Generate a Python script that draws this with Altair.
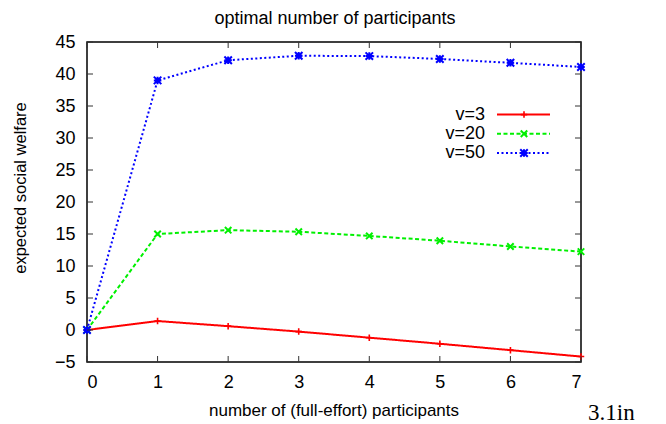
import altair as alt
import pandas as pd

# ---- data ----
participants = [0, 1, 2, 3, 4, 5, 6, 7]
v3 = [0, 1.4, 0.6, -0.25, -1.2, -2.15, -3.15, -4.15]
v20 = [0, 15.0, 15.6, 15.35, 14.7, 13.95, 13.05, 12.25]
v50 = [0, 39.0, 42.15, 42.85, 42.8, 42.35, 41.75, 41.1]
series_names = ["v=3", "v=20", "v=50"]
x_ticks = [0, 1, 2, 3, 4, 5, 6, 7]
y_ticks = [-5, 0, 5, 10, 15, 20, 25, 30, 35, 40, 45]
title_text = "optimal number of participants"
x_title = "number of (full-effort) participants"
y_title = "expected social welfare"
note_text = "3.1in"

W, H = 494, 320
FONT = "Liberation Sans"

PLUS = "M-1,0L1,0M0,-1L0,1"
CROSS = "M-1,-1L1,1M-1,1L1,-1"
STAR = "M-1,0L1,0M0,-1L0,1M-1,-1L1,1M-1,1L1,-1"

styles = {
    "v=3": dict(color="#ff0000", dash=[1, 0], shape=PLUS, size=42, sw=1.6),
    "v=20": dict(color="#00f000", dash=[4, 2.5], shape=CROSS, size=42, sw=2),
    "v=50": dict(color="#0000ff", dash=[2, 2.5], shape=STAR, size=56, sw=2),
}
values = {"v=3": v3, "v=20": v20, "v=50": v50}

xs = alt.Scale(domain=[0, 7], nice=False, zero=False)
ys = alt.Scale(domain=[-5, 45], nice=False, zero=False)

x_axis = alt.Axis(
    values=x_ticks, format="d", tickSize=0, domain=False, grid=False, labelFontSize=18,
    labelFont=FONT, labelColor="black", labelPadding=11, labelOverlap=False,
    title=None)
y_axis = alt.Axis(
    values=y_ticks, format="d", tickSize=0, domain=False, grid=False, labelFontSize=18,
    labelFont=FONT, labelColor="black", labelPadding=12, labelOverlap=False,
    title=None)

def X(f="n:Q"):
    return alt.X(f, scale=xs, axis=x_axis)

def Y(f="w:Q"):
    return alt.Y(f, scale=ys, axis=y_axis)

layers = []
legend_rows = [72.6, 91.8, 111.0]
for name, ly in zip(series_names, legend_rows):
    st = styles[name]
    df = pd.DataFrame({"n": participants, "w": values[name]})
    layers.append(alt.Chart(df).mark_line(
        color=st["color"], strokeWidth=2, strokeDash=st["dash"]
    ).encode(x=X(), y=Y()))
    layers.append(alt.Chart(df).mark_point(
        shape=st["shape"], size=st["size"], filled=False, color=st["color"],
        strokeWidth=st["sw"], opacity=1
    ).encode(x=X(), y=Y()))
    # legend entry
    ldf = pd.DataFrame({"label": [name]})
    layers.append(alt.Chart(ldf).mark_text(
        align="right", baseline="middle", font=FONT, fontSize=18, color="black"
    ).encode(text="label:N", x=alt.value(398), y=alt.value(ly)))
    layers.append(alt.Chart(ldf).mark_rule(
        color=st["color"], strokeWidth=2, strokeDash=st["dash"]
    ).encode(x=alt.value(410), x2=alt.value(463), y=alt.value(ly)))
    layers.append(alt.Chart(ldf).mark_point(
        shape=st["shape"], size=st["size"], filled=False, color=st["color"],
        strokeWidth=st["sw"], opacity=1
    ).encode(x=alt.value(437), y=alt.value(ly)))

# inward ticks on all four sides
xt = pd.DataFrame({"n": x_ticks})
yt = pd.DataFrame({"w": y_ticks})
tick_style = dict(color="#333333", strokeWidth=1)
layers.append(alt.Chart(xt).mark_rule(**tick_style).encode(
    x=X(), y=alt.value(H), y2=alt.value(H - 6)))
layers.append(alt.Chart(xt).mark_rule(**tick_style).encode(
    x=X(), y=alt.value(0), y2=alt.value(6)))
layers.append(alt.Chart(yt).mark_rule(**tick_style).encode(
    y=Y(), x=alt.value(0), x2=alt.value(6)))
layers.append(alt.Chart(yt).mark_rule(**tick_style).encode(
    y=Y(), x=alt.value(W), x2=alt.value(W - 6)))

# titles and note as text
def txt(s, **kw):
    enc = {k: alt.value(v) for k, v in kw.pop("pos").items()}
    return alt.Chart(pd.DataFrame({"t": [s]})).mark_text(color="black", **kw).encode(
        text="t:N", **enc)

layers.append(txt(title_text, pos={"x": W / 2 + 1, "y": -18}, align="center",
                  baseline="alphabetic", font=FONT, fontSize=18))
layers.append(txt(x_title, pos={"x": W / 2, "y": 374}, align="center",
                  baseline="alphabetic", font=FONT, fontSize=17))
layers.append(txt(y_title, pos={"x": -66, "y": 146}, angle=270, align="center",
                  baseline="middle", font=FONT, fontSize=16.5))
layers.append(txt(note_text, pos={"x": 501, "y": 377.5}, align="left",
                  baseline="alphabetic", font="Liberation Serif", fontSize=23))

chart = alt.layer(*layers).properties(
    width=W, height=H,
    autosize=alt.AutoSizeParams(type="none"),
    padding={"left": 79, "top": 34, "right": 70, "bottom": 60},
).configure_view(stroke="black", strokeWidth=1.5)

chart.save("out.html", embed_options={"renderer": "svg", "actions": False})
